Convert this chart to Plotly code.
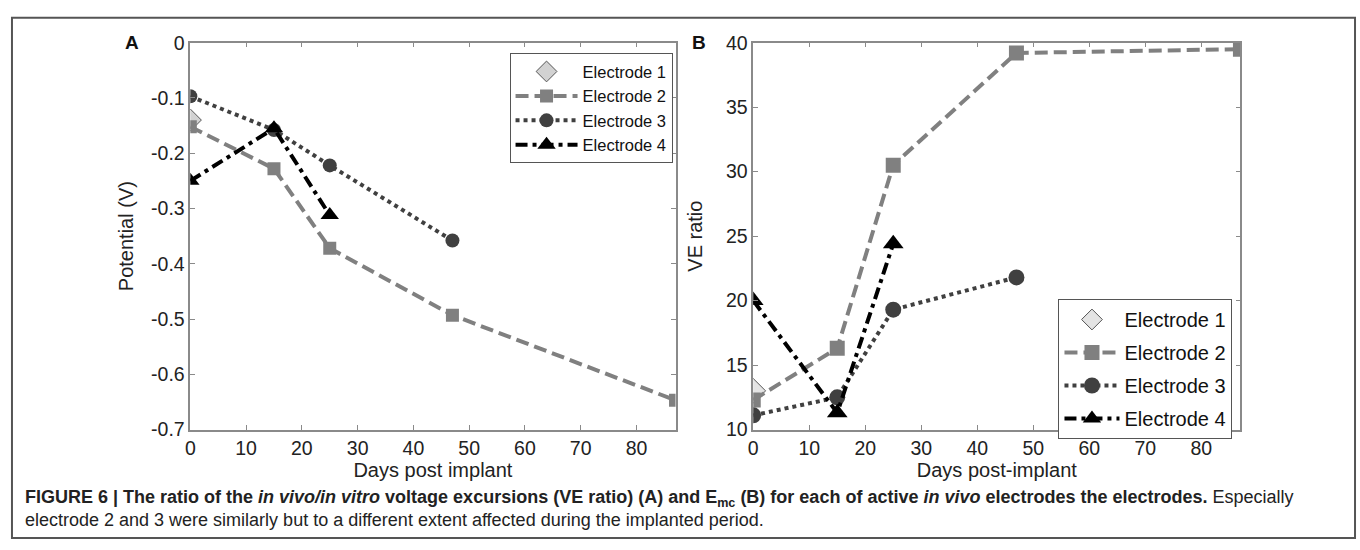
import plotly.graph_objects as go

W, H = 1360, 550

# ---- data ----
days_e1 = [0]
days_e2 = [0, 15, 25, 47, 87]
days_e3 = [0, 15, 25, 47]
days_e4 = [0, 15, 25]

pot_e1 = [-0.140]
pot_e2 = [-0.152, -0.228, -0.372, -0.493, -0.647]
pot_e3 = [-0.097, -0.158, -0.222, -0.358]
pot_e4 = [-0.250, -0.155, -0.312]

ve_e1 = [13.0]
ve_e2 = [12.3, 16.3, 30.5, 39.2, 39.5]
ve_e3 = [11.1, 12.5, 19.3, 21.8]
ve_e4 = [20.0, 11.3, 24.4]

names = ["Electrode 1", "Electrode 2", "Electrode 3", "Electrode 4"]
x_ticks = [0, 10, 20, 30, 40, 50, 60, 70, 80]
a_yticks = [0, -0.1, -0.2, -0.3, -0.4, -0.5, -0.6, -0.7]
a_yticklabels = ["0", "-0.1", "-0.2", "-0.3", "-0.4", "-0.5", "-0.6", "-0.7"]
b_yticks = [10, 15, 20, 25, 30, 35, 40]

FONT = "Liberation Sans, Arial, sans-serif"


def styles(big):
    k = 2 if big else 0
    return [
        dict(mode="markers", marker=dict(symbol="diamond", size=17 + k,
                                         color="#e4e4e4" if big else "#d2d2d2",
                                         line=dict(color="#555555", width=1))),
        dict(mode="lines+markers", line=dict(color="#808080", width=4, dash="13px,6px"),
             marker=dict(symbol="square", size=13 + k, color="#808080")),
        dict(mode="lines+markers", line=dict(color="#404040", width=4, dash="4px,4px"),
             marker=dict(symbol="circle", size=14 + k, color="#404040")),
        dict(mode="lines+markers", line=dict(color="#000000", width=4, dash="12px,5px,4px,5px"),
             marker=dict(symbol="triangle-up", size=16 + k, color="#000000")),
    ]


fig = go.Figure()

A_x = [days_e1, days_e2, days_e3, days_e4]
A_y = [pot_e1, pot_e2, pot_e3, pot_e4]
B_y = [ve_e1, ve_e2, ve_e3, ve_e4]

sa = styles(False)
sb = styles(True)
for i in range(4):
    fig.add_trace(go.Scatter(x=A_x[i], y=A_y[i], name=names[i], xaxis="x", yaxis="y",
                             legend="legend", legendgroup="a%d" % i, **sa[i]))
for i in range(4):
    fig.add_trace(go.Scatter(x=A_x[i], y=B_y[i], name=names[i], xaxis="x2", yaxis="y2",
                             legend="legend2", legendgroup="b%d" % i, **sb[i]))

top, bottom = 33, 436
ydom = [1 - bottom / H, 1 - top / H]

axis_common = dict(showline=True, linecolor="#8a8a8a", linewidth=1.5, mirror="allticks",
                   ticks="inside", ticklen=5, tickcolor="#8a8a8a", showgrid=False,
                   zeroline=False, tickfont=dict(family=FONT, size=19.5, color="#222222"),
                   title_font=dict(family=FONT, size=20, color="#222222"))

fig.update_layout(
    width=W, height=H, margin=dict(l=0, r=0, t=0, b=0),
    paper_bgcolor="white", plot_bgcolor="white",
    font=dict(family=FONT, color="#222222"),
    xaxis=dict(domain=[186 / W, 673 / W], range=[0, 87], tickvals=x_ticks,
               title=dict(text="Days post implant", standoff=0), anchor="y", **axis_common),
    yaxis=dict(domain=ydom, range=[-0.7, 0], tickvals=a_yticks, ticktext=a_yticklabels,
               title=dict(text="Potential (V)", standoff=12), anchor="x", **axis_common),
    xaxis2=dict(domain=[751 / W, 1240 / W], range=[0, 87], tickvals=x_ticks,
                title=dict(text="Days post-implant", standoff=0), anchor="y2", **axis_common),
    yaxis2=dict(domain=ydom, range=[10, 40], tickvals=b_yticks,
                title=dict(text="VE ratio", standoff=18), anchor="x2", **axis_common),
    legend=dict(x=670 / W, y=1 - 44 / H, xanchor="right", yanchor="top",
                bgcolor="white", bordercolor="#555555", borderwidth=1, itemwidth=62,
                tracegroupgap=0, traceorder="grouped",
                font=dict(family=FONT, size=16.5, color="#111111")),
    legend2=dict(x=1232 / W, y=1 - 300 / H, xanchor="right", yanchor="top",
                 bgcolor="white", bordercolor="#555555", borderwidth=1, itemwidth=55,
                 tracegroupgap=4, traceorder="grouped",
                 font=dict(family=FONT, size=20, color="#111111")),
    showlegend=True,
)

caption = ("<b>FIGURE 6 | The ratio of the <i>in vivo/in vitro</i> voltage excursions (VE ratio) (A) "
           "and E<sub>mc</sub> (B) for each of active <i>in vivo</i> electrodes the electrodes.</b> "
           "Especially<br>electrode 2 and 3 were similarly but to a different extent affected "
           "during the implanted period.")

fig.add_annotation(x=18 / W, y=1 - 494 / H, xref="paper", yref="paper", xanchor="left",
                   yanchor="top", align="left", showarrow=False, text=caption,
                   font=dict(family=FONT, size=18, color="#222222"))
fig.add_annotation(x=127 / W, y=1 - top / H, xref="paper", yref="paper", showarrow=False,
                   xanchor="center", yanchor="middle",
                   text="<b>A</b>", font=dict(family=FONT, size=19, color="#111111"))
fig.add_annotation(x=697 / W, y=1 - top / H, xref="paper", yref="paper", showarrow=False,
                   xanchor="center", yanchor="middle",
                   text="<b>B</b>", font=dict(family=FONT, size=19, color="#111111"))

fig.add_shape(type="rect", xref="paper", yref="paper", x0=7 / W, x1=1355 / W,
              y0=1 / H, y1=1 - 7 / H, line=dict(color="#555555", width=2))

fig.write_html("out.html")
